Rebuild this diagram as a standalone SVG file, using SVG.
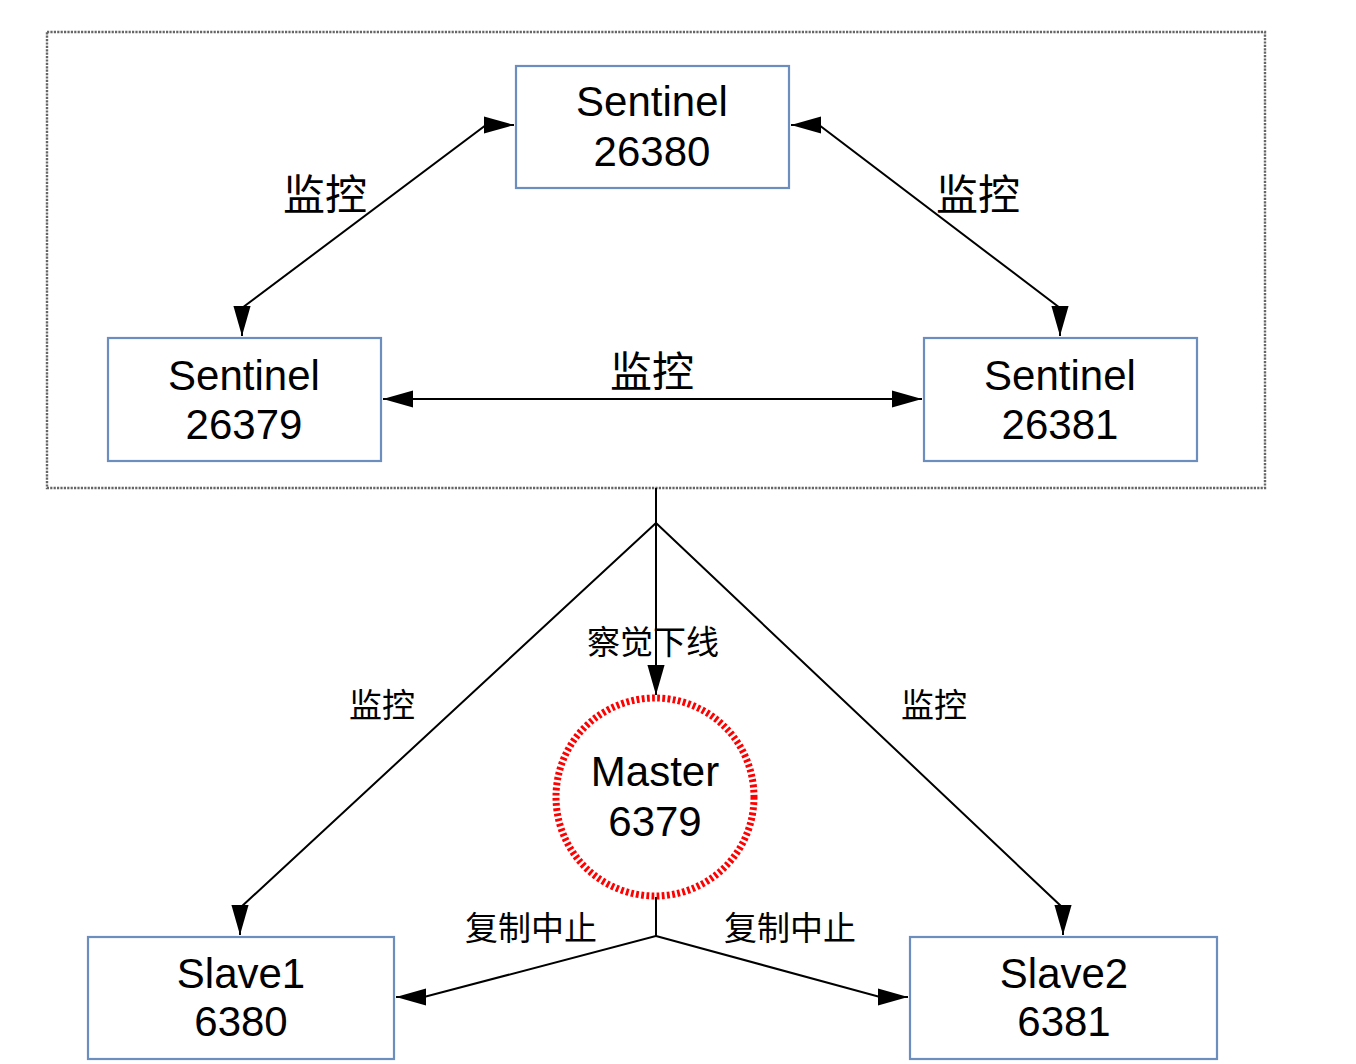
<svg xmlns="http://www.w3.org/2000/svg" width="1356" height="1064" viewBox="0 0 1356 1064">
<style>
.box{fill:#fff;stroke:#6c8ebf;stroke-width:2.2}
.t{font-family:"Liberation Sans","Noto Sans CJK SC",sans-serif;fill:#000;text-anchor:middle}
.big{font-size:42px}
.lbl{font-size:42px}
.sm{font-size:33px}
.c{fill:none;stroke:#000;stroke-width:2}
</style>
<defs>
<marker id="ah" markerUnits="userSpaceOnUse" markerWidth="30" markerHeight="18" viewBox="0 0 28 16" refX="28" refY="8" orient="auto-start-reverse">
<path d="M0 0 L28 8 L0 16 Z" fill="#000"/>
</marker>
</defs>
<rect width="1356" height="1064" fill="#fff"/>
<g id="cluster">
<rect x="47" y="32" width="1218" height="456" fill="none" stroke="#666" stroke-width="2.4" stroke-dasharray="2.2,1.2"/>
</g>
<g id="connectors">
<path class="c" d="M514 125 L486 125 L242 308 L242 336" marker-start="url(#ah)" marker-end="url(#ah)"/>
<path class="c" d="M791 125 L819 125 L1060 308 L1060 336" marker-start="url(#ah)" marker-end="url(#ah)"/>
<path class="c" d="M383 399 L922 399" marker-start="url(#ah)" marker-end="url(#ah)"/>
<path class="c" d="M656 488 L656 695" marker-end="url(#ah)"/>
<path class="c" d="M656 523 L240 908 L240 935" marker-end="url(#ah)"/>
<path class="c" d="M656 523 L1063 908 L1063 935" marker-end="url(#ah)"/>
<path class="c" d="M656 897 L656 936 L424 997 L396 997" marker-end="url(#ah)"/>
<path class="c" d="M656 936 L880 997 L908 997" marker-end="url(#ah)"/>
<text class="t lbl" x="325" y="210">监控</text>
<text class="t lbl" x="978" y="210">监控</text>
<text class="t lbl" x="652" y="387">监控</text>
<text class="t sm" x="382" y="717">监控</text>
<text class="t sm" x="934" y="717">监控</text>
<text class="t sm" x="653" y="654">察觉下线</text>
<text class="t sm" x="531" y="940">复制中止</text>
<text class="t sm" x="790" y="940">复制中止</text>
</g>
<g id="s26380">
<rect class="box" x="516" y="66" width="273" height="122"/>
<text class="t big" x="652" y="116">Sentinel</text>
<text class="t big" x="652" y="166">26380</text>
</g>
<g id="s26379">
<rect class="box" x="108" y="338" width="273" height="123"/>
<text class="t big" x="244" y="390">Sentinel</text>
<text class="t big" x="244" y="439">26379</text>
</g>
<g id="s26381">
<rect class="box" x="924" y="338" width="273" height="123"/>
<text class="t big" x="1060" y="390">Sentinel</text>
<text class="t big" x="1060" y="439">26381</text>
</g>
<g id="master">
<circle cx="655" cy="797" r="99" fill="#fff" stroke="#ff0000" stroke-width="7" stroke-dasharray="2.8,2.4"/>
<text class="t big" x="655" y="786">Master</text>
<text class="t big" x="655" y="836">6379</text>
</g>
<g id="slave1">
<rect class="box" x="88" y="937" width="306" height="122"/>
<text class="t big" x="241" y="988">Slave1</text>
<text class="t big" x="241" y="1036">6380</text>
</g>
<g id="slave2">
<rect class="box" x="910" y="937" width="307" height="122"/>
<text class="t big" x="1064" y="988">Slave2</text>
<text class="t big" x="1064" y="1036">6381</text>
</g>
</svg>
